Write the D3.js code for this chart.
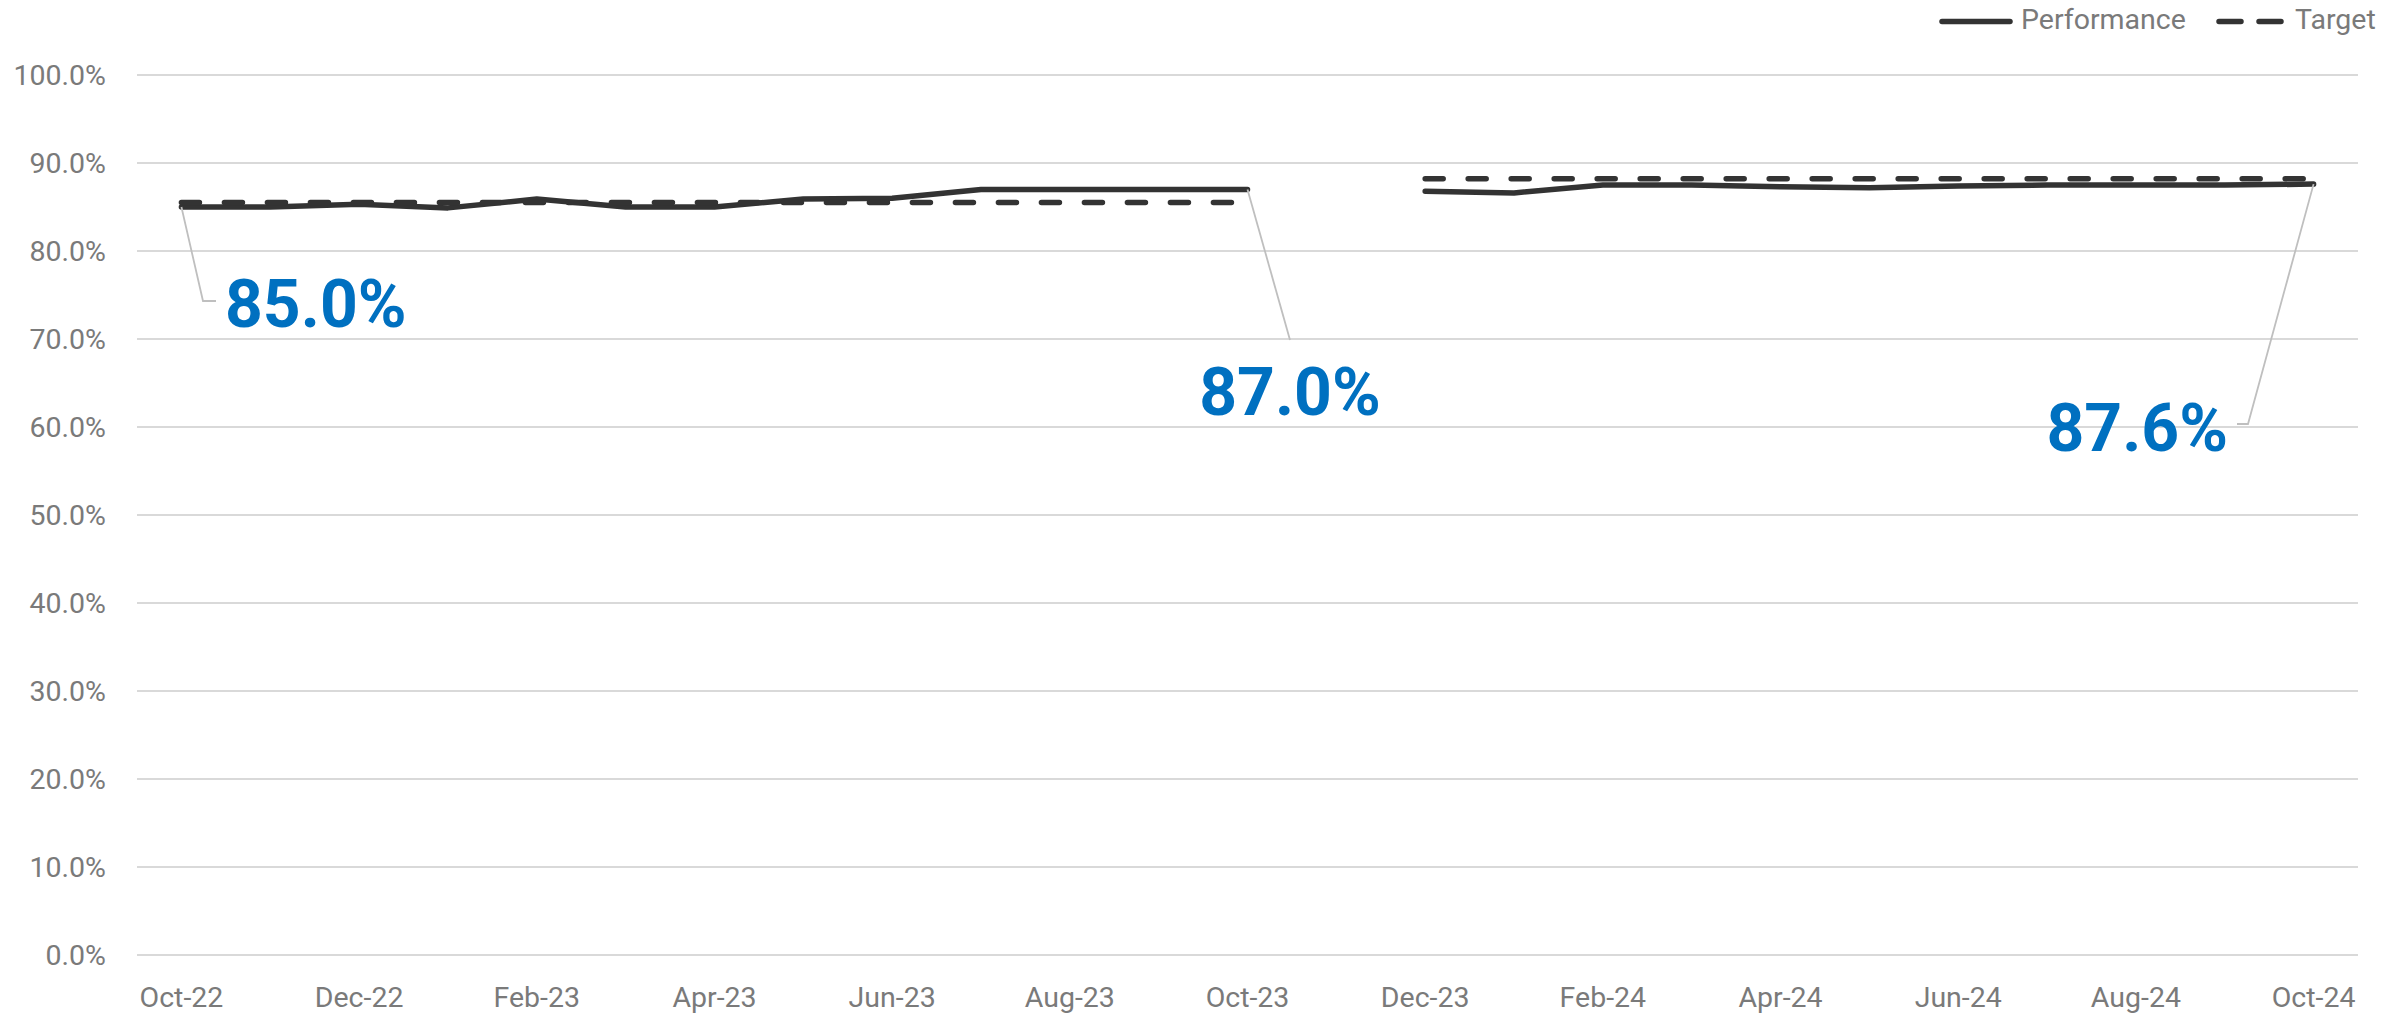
<!DOCTYPE html>
<html>
<head>
<meta charset="utf-8">
<script src="https://cdn.jsdelivr.net/npm/d3@7"></script>
<style>
  html, body { margin: 0; padding: 0; background: #fff; }
  svg { display: block; }
  text { font-family: Roboto, "Open Sans", sans-serif; }
</style>
</head>
<body>
<svg id="chart" width="2382" height="1016"></svg>
<script>
// ---- data ----
const months = ["Oct-22","Nov-22","Dec-22","Jan-23","Feb-23","Mar-23","Apr-23","May-23","Jun-23","Jul-23","Aug-23","Sep-23","Oct-23",
                "Nov-23","Dec-23","Jan-24","Feb-24","Mar-24","Apr-24","May-24","Jun-24","Jul-24","Aug-24","Sep-24","Oct-24"];
const performance = [0.850,0.850,0.853,0.849,0.859,0.850,0.850,0.859,0.860,0.870,0.870,0.870,0.870,
                     null,0.868,0.866,0.875,0.875,0.873,0.872,0.874,0.875,0.875,0.875,0.876];
const target = [0.855,0.855,0.855,0.855,0.855,0.855,0.855,0.855,0.855,0.855,0.855,0.855,0.855,
                null,0.882,0.882,0.882,0.882,0.882,0.882,0.882,0.882,0.882,0.882,0.882];
const yTicks = [0,0.1,0.2,0.3,0.4,0.5,0.6,0.7,0.8,0.9,1.0];
const xTickLabels = ["Oct-22","Dec-22","Feb-23","Apr-23","Jun-23","Aug-23","Oct-23","Dec-23","Feb-24","Apr-24","Jun-24","Aug-24","Oct-24"];
const seriesNames = ["Performance","Target"];

// ---- layout ----
const svg = d3.select("#chart");
const pLeft = 137, pRight = 2358, pTop = 75, pBottom = 955;
const lineColor = "#333333", textColor = "#7a7a7a", gridColor = "#d9d9d9", labelColor = "#0070c0";

const x = d3.scaleBand().domain(months).range([pLeft, pRight]);
const xc = m => x(m) + x.bandwidth() / 2;
const y = d3.scaleLinear().domain([0, 1]).range([pBottom, pTop]);

// gridlines
svg.append("g").selectAll("line").data(yTicks).join("line")
  .attr("x1", pLeft).attr("x2", pRight)
  .attr("y1", d => y(d)).attr("y2", d => y(d))
  .attr("stroke", gridColor).attr("stroke-width", 2);

// y axis labels
const yAxis = d3.axisLeft(y).tickValues(yTicks).tickFormat(d3.format(".1%")).tickSize(0).tickPadding(0);
const gy = svg.append("g").attr("transform", "translate(106,0)").call(yAxis);
gy.select(".domain").remove();
gy.selectAll("text").attr("font-size", 28.5).attr("fill", textColor)
  .attr("font-family", "Roboto, sans-serif").attr("dy", "0.35em");

// x axis labels
const xAxis = d3.axisBottom(x).tickValues(xTickLabels).tickSize(0).tickPadding(0);
const gx = svg.append("g").attr("transform", "translate(0,1007)").call(xAxis);
gx.select(".domain").remove();
gx.selectAll("text").attr("font-size", 28.5).attr("fill", textColor)
  .attr("font-family", "Roboto, sans-serif").attr("dy", 0);

// lines
const lineGen = d3.line()
  .defined(d => d.v !== null)
  .x(d => xc(d.m)).y(d => y(d.v));

const perfData = months.map((m, i) => ({ m, v: performance[i] }));
const targData = months.map((m, i) => ({ m, v: target[i] }));

svg.append("path").datum(perfData).attr("d", lineGen)
  .attr("fill", "none").attr("stroke", lineColor).attr("stroke-width", 5.5)
  .attr("stroke-linejoin", "round").attr("stroke-linecap", "round");

svg.append("path").datum(targData).attr("d", lineGen)
  .attr("fill", "none").attr("stroke", lineColor).attr("stroke-width", 5.5)
  .attr("stroke-dasharray", "18,25").attr("stroke-linecap", "round");

// data labels with leader lines
const labelLayout = [
  { i: 0,  anchor: "start",  tx: 225,  ty: 327, leader: [[203, 301], [216, 301]] },
  { i: 12, anchor: "middle", tx: 1290, ty: 415, leader: [[1290, 340]] },
  { i: 24, anchor: "end",    tx: 2228, ty: 451, leader: [[2248, 424], [2237, 424]] }
];
const lbl = svg.append("g");
labelLayout.forEach(L => {
  const m = months[L.i], v = performance[L.i];
  const pts = [[xc(m), y(v)]].concat(L.leader);
  lbl.append("path").attr("d", d3.line()(pts))
    .attr("fill", "none").attr("stroke", "#bfbfbf").attr("stroke-width", 1.8);
  lbl.append("text").attr("x", L.tx).attr("y", L.ty)
    .attr("text-anchor", L.anchor)
    .attr("font-size", 66).attr("font-weight", "bold").attr("fill", labelColor)
    .text(d3.format(".1%")(v));
});

// legend
const lg = svg.append("g");
lg.append("line").attr("x1", 1942).attr("x2", 2010).attr("y1", 21.5).attr("y2", 21.5)
  .attr("stroke", lineColor).attr("stroke-width", 5.5).attr("stroke-linecap", "round");
lg.append("text").attr("x", 2021).attr("y", 29).attr("font-size", 28.5).attr("fill", textColor).text(seriesNames[0]);
lg.append("line").attr("x1", 2219).attr("x2", 2281).attr("y1", 21.5).attr("y2", 21.5)
  .attr("stroke", lineColor).attr("stroke-width", 5.5).attr("stroke-linecap", "round")
  .attr("stroke-dasharray", "22,18");
lg.append("text").attr("x", 2295).attr("y", 29).attr("font-size", 28.5).attr("fill", textColor).text(seriesNames[1]);
</script>
</body>
</html>
